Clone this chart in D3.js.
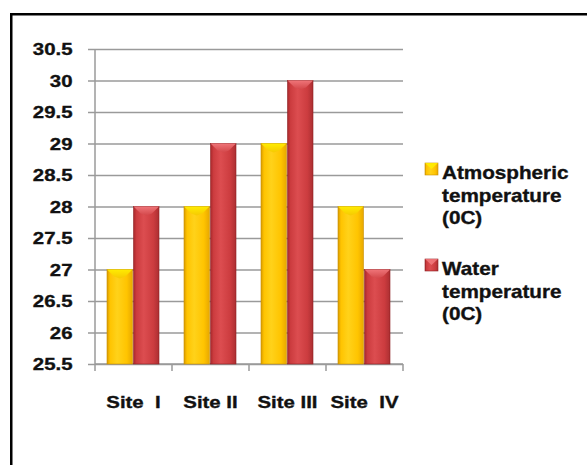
<!DOCTYPE html>
<html>
<head>
<meta charset="utf-8">
<script src="https://cdn.jsdelivr.net/npm/d3@7/dist/d3.min.js"></script>
<style>
  html, body { margin: 0; padding: 0; background: #fff; }
  svg { display: block; }
  text { font-family: "Liberation Sans", Arial, sans-serif; font-weight: bold; fill: #111; stroke: #111; stroke-width: 0.35px; }
</style>
</head>
<body>
<svg id="chart" width="587" height="465"></svg>
<script>
// Sites along the category axis
const sites = ["Site  I", "Site II", "Site III", "Site  IV"];
// Series names (legend lines) and their values per site
const seriesNames = ["Atmospheric temperature (0C)", "Water temperature (0C)"];
const legendLines = [["Atmospheric", "temperature", "(0C)"], ["Water", "temperature", "(0C)"]];
const atmospheric = [27, 28, 29, 28];
const water = [28, 29, 30, 27];
// Value-axis ticks and their labels
const yTicks = [25.5, 26, 26.5, 27, 27.5, 28, 28.5, 29, 29.5, 30, 30.5];
const yTickLabels = ["25.5", "26", "26.5", "27", "27.5", "28", "28.5", "29", "29.5", "30", "30.5"];

const rows = sites.map((s, i) => ({ site: s, values: [atmospheric[i], water[i]] }));

const svg = d3.select("#chart");
const SX = 1.2; // horizontal text stretch

// outer frame
svg.append("rect")
  .attr("x", 11.25).attr("y", 14.25)
  .attr("width", 700).attr("height", 600)
  .attr("fill", "#fff").attr("stroke", "#000").attr("stroke-width", 2.5);

const plot = { left: 95, right: 403, top: 49, bottom: 364 };

const y = d3.scaleLinear().domain([25.5, 30.5]).range([plot.bottom, plot.top]);
const x0 = d3.scaleBand().domain(sites).range([plot.left, plot.right]).padding(0);
const x1 = d3.scaleBand().domain(seriesNames).range([12, 64]).paddingInner(0.04);

// colour schemes for the two series
const palettes = [
  { edge: "#d99a00", main: "#ffc400", hi: "#ffd21a", shade: "#e8a800", top: "#fff000", topEdge: "#f5c800", border: "#c89000" },
  { edge: "#a8282b", main: "#cc3c3f", hi: "#dc4d50", shade: "#ac2f32", top: "#f27a7e", topEdge: "#d24649", border: "#8e2022" }
];

const defs = svg.append("defs");
palettes.forEach((p, i) => {
  const g = defs.append("linearGradient").attr("id", "barGrad" + i)
    .attr("x1", "0%").attr("x2", "100%").attr("y1", "0%").attr("y2", "0%");
  g.append("stop").attr("offset", "0%").attr("stop-color", p.edge);
  g.append("stop").attr("offset", "12%").attr("stop-color", p.main);
  g.append("stop").attr("offset", "40%").attr("stop-color", p.hi);
  g.append("stop").attr("offset", "78%").attr("stop-color", p.main);
  g.append("stop").attr("offset", "100%").attr("stop-color", p.shade);
  const t = defs.append("linearGradient").attr("id", "topGrad" + i)
    .attr("x1", "0%").attr("x2", "0%").attr("y1", "0%").attr("y2", "100%");
  t.append("stop").attr("offset", "0%").attr("stop-color", p.top);
  t.append("stop").attr("offset", "100%").attr("stop-color", p.topEdge);
});

// horizontal gridlines with short tick stubs on the left
const yAxis = d3.axisLeft(y).tickValues(yTicks).tickSize(-(plot.right - plot.left)).tickFormat("");
const ga = svg.append("g").attr("transform", `translate(${plot.left},0)`).call(yAxis);
ga.select(".domain").remove();
ga.selectAll(".tick line").attr("stroke", "#9a9a9a").attr("stroke-width", 1.5)
  .attr("x1", -7);
svg.append("line")
  .attr("x1", plot.left).attr("x2", plot.left)
  .attr("y1", plot.top).attr("y2", plot.bottom)
  .attr("stroke", "#9a9a9a").attr("stroke-width", 1.5);

// category axis with boundary ticks
svg.append("line")
  .attr("x1", plot.left).attr("x2", plot.right)
  .attr("y1", plot.bottom).attr("y2", plot.bottom)
  .attr("stroke", "#9a9a9a").attr("stroke-width", 1.5);
const bounds = sites.map(s => x0(s)).concat([x0(sites[sites.length - 1]) + x0.bandwidth()]);
svg.selectAll(".xtick").data(bounds).join("line")
  .attr("x1", d => d).attr("x2", d => d)
  .attr("y1", plot.bottom).attr("y2", plot.bottom + 7)
  .attr("stroke", "#9a9a9a").attr("stroke-width", 1.5);

// y tick labels
svg.selectAll(".ylab").data(yTicks).join("text")
  .attr("transform", d => `translate(72.5,${y(d)}) scale(${SX},1)`)
  .attr("dy", "0.36em")
  .attr("text-anchor", "end")
  .attr("font-size", 17)
  .text((d, i) => yTickLabels[i]);

// x labels
svg.selectAll(".xlab").data(sites).join("text")
  .attr("transform", d => `translate(${x0(d) + x0.bandwidth() / 2},408) scale(${SX},1)`)
  .attr("text-anchor", "middle")
  .attr("font-size", 17)
  .style("white-space", "pre")
  .text(d => d);

// bars
const groups = svg.selectAll(".site").data(rows).join("g")
  .attr("transform", d => `translate(${x0(d.site)},0)`);

groups.each(function (d) {
  const g = d3.select(this);
  d.values.forEach((v, i) => {
    const bx = x1(seriesNames[i]);
    const bw = x1.bandwidth();
    const top = y(v);
    const p = palettes[i];
    g.append("rect")
      .attr("x", bx).attr("y", top)
      .attr("width", bw).attr("height", y(25.5) - top)
      .attr("fill", `url(#barGrad${i})`)
      .attr("stroke", p.border).attr("stroke-width", 0.6);
    // bevelled top facet
    g.append("path")
      .attr("d", `M${bx},${top} L${bx + bw},${top} L${bx + bw * 0.72},${top + 7} L${bx + bw / 2},${top + 9} L${bx + bw * 0.28},${top + 7} Z`)
      .attr("fill", `url(#topGrad${i})`)
      .attr("opacity", 0.9);
  });
});

// legend
const legend = svg.append("g");
legendLines.forEach((lines, i) => {
  const baseY = i === 0 ? 179 : 275;
  const p = palettes[i];
  const mk = legend.append("g");
  mk.append("rect")
    .attr("x", 425).attr("y", baseY - 16)
    .attr("width", 13).attr("height", 12)
    .attr("fill", `url(#barGrad${i})`)
    .attr("stroke", p.border).attr("stroke-width", 0.6);
  mk.append("path")
    .attr("d", `M425,${baseY - 16} L438,${baseY - 16} L431.5,${baseY - 10} Z`)
    .attr("fill", p.top).attr("opacity", 0.85);
  lines.forEach((ln, j) => {
    legend.append("text")
      .attr("transform", `translate(442,${baseY + j * 22.5}) scale(1.15,1)`)
      .attr("font-size", 18)
      .text(ln);
  });
});
</script>
</body>
</html>
